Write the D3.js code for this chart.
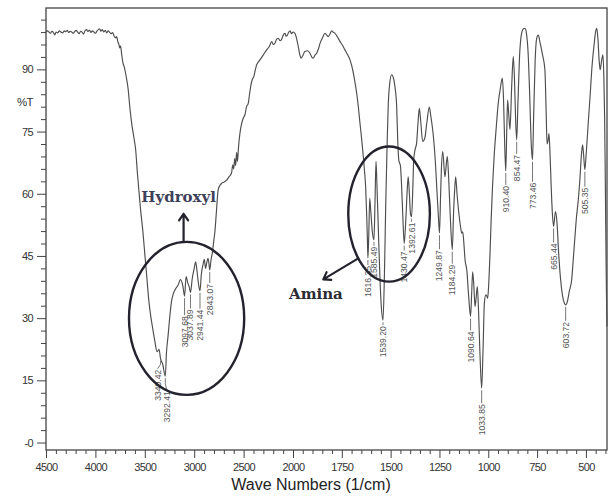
<!DOCTYPE html>
<html>
<head>
<meta charset="utf-8">
<script src="https://cdn.jsdelivr.net/npm/d3@7"></script>
<style>
  body { margin: 0; background: #fff; }
  svg { display: block; }
</style>
</head>
<body>
<svg id="chart" width="611" height="496"></svg>
<script>
// FTIR spectrum: wave number (1/cm) against transmittance (%T)
const wavenumbers = [
  4500, 4485, 4470, 4455, 4440, 4425, 4412, 4398, 4380, 4365, 4350, 4330, 4315, 4300, 4285, 4270,
  4255, 4240, 4225, 4210, 4195, 4180, 4165, 4150, 4135, 4120, 4105, 4090, 4075, 4060, 4045, 4030,
  4015, 4000, 3985, 3970, 3957, 3945, 3930, 3915, 3900, 3885, 3870, 3855, 3840, 3826, 3810, 3795,
  3785, 3772, 3762, 3755, 3745, 3735, 3721, 3708, 3694, 3682, 3670, 3650, 3630, 3610, 3592, 3575,
  3557, 3540, 3521, 3500, 3480, 3460, 3440, 3420, 3400, 3376, 3356, 3340.42, 3320, 3292.41, 3281, 3265,
  3247, 3230, 3210, 3190, 3163, 3139, 3115, 3097.68, 3082, 3065, 3050, 3037.89, 3020, 3000, 2985, 2970,
  2955, 2941.44, 2928, 2910, 2898, 2885, 2872, 2860, 2850, 2843.07, 2830, 2815, 2800, 2790, 2774, 2758,
  2740, 2723, 2700, 2672, 2650, 2622, 2610, 2600, 2590, 2580, 2571, 2562, 2551, 2537, 2524, 2510,
  2498, 2487, 2470, 2453, 2440, 2429, 2413, 2396, 2382, 2368, 2350, 2335, 2300, 2267, 2240, 2216,
  2200, 2183, 2165, 2149, 2130, 2116, 2100, 2081, 2070, 2058, 2045, 2030, 2015, 2000, 1990, 1982,
  1973, 1965, 1959, 1950, 1939, 1925, 1913, 1903, 1896, 1888, 1879, 1870, 1862, 1850, 1836, 1828,
  1819, 1810, 1802, 1795, 1785, 1772, 1759, 1745, 1734, 1720, 1708, 1700, 1691, 1683, 1674, 1665,
  1657, 1648, 1640, 1633, 1628, 1623, 1619, 1616.35, 1612, 1607, 1602, 1594, 1585.49, 1580, 1575, 1570,
  1562, 1555, 1548, 1539.2, 1532, 1525, 1518, 1512, 1505, 1495, 1485, 1478, 1469, 1463, 1458, 1450,
  1444, 1438, 1430.47, 1422, 1415, 1410, 1404, 1398, 1392.61, 1386, 1382, 1375, 1367, 1360, 1353, 1346,
  1336, 1325, 1315, 1302, 1295, 1281, 1270, 1264, 1256, 1249.87, 1244, 1240, 1233, 1222, 1210, 1203,
  1195, 1184.29, 1178, 1172, 1167, 1160, 1150, 1142, 1136, 1131, 1125, 1119, 1110, 1100, 1090.64, 1085,
  1080, 1074, 1068, 1062, 1056, 1050, 1043, 1033.85, 1027, 1020, 1013, 1007, 1003, 998, 991, 985,
  978, 970, 960, 949, 938, 928, 922, 916, 910.4, 905, 901, 895, 889, 880, 872, 866,
  860, 854.47, 848, 840, 830, 820, 812, 804, 796, 788, 780, 773.46, 768, 760, 752, 744,
  735, 722, 710, 704, 699, 694, 689, 684, 678, 672, 665.44, 656, 648, 640, 630, 620,
  610, 603.72, 595, 585, 573, 565, 556, 548, 540, 531, 522, 517, 512, 505.35, 498, 487,
  478, 470, 458, 450, 444, 438, 432, 427, 420, 413, 408, 404, 400, 397, 394, 392
];
const transmittance = [
  99.0, 99.3, 99.0, 98.7, 99.2, 98.9, 98.3, 99.0, 98.8, 99.3, 99.0, 98.8, 99.3, 99.1, 99.4, 98.9,
  99.2, 99.0, 98.7, 99.1, 99.4, 99.0, 98.6, 99.2, 99.0, 98.5, 99.3, 99.6, 99.1, 99.5, 98.9, 99.3,
  99.0, 98.7, 99.2, 99.6, 99.8, 99.2, 99.6, 99.0, 99.4, 98.8, 99.3, 98.9, 98.6, 98.9, 98.0, 97.6,
  97.9, 96.6, 96.0, 95.2, 95.6, 93.8, 91.5, 90.6, 89.0, 87.4, 85.5, 80.5, 76.5, 73.5, 70.5, 65.0,
  60.0, 55.5, 51.3, 45.5, 40.0, 34.4, 30.5, 27.5, 24.7, 21.9, 22.5, 20.2, 19.0, 16.0, 21.6, 25.6,
  30.4, 34.0, 36.0, 37.0, 38.0, 39.3, 37.8, 35.3, 40.0, 38.5, 37.5, 36.2, 39.5, 42.0, 43.6, 41.0,
  38.0, 36.6, 40.5, 43.0, 44.2, 42.0, 43.5, 44.4, 43.0, 41.6, 44.0, 46.0, 49.0, 51.0, 56.1, 60.9,
  62.0, 62.5, 62.8, 63.3, 64.0, 65.0, 67.0, 66.0, 68.5, 66.8, 70.0, 67.8, 71.4, 74.6, 76.5, 77.8,
  78.5, 79.0, 81.0, 81.8, 84.0, 85.8, 87.5, 88.3, 89.8, 91.1, 91.8, 92.3, 93.5, 94.7, 95.5, 96.7,
  96.0, 96.3, 97.3, 97.5, 96.9, 97.2, 98.2, 98.7, 98.0, 98.2, 98.9, 99.3, 98.6, 99.0, 98.7, 97.5,
  95.5, 93.5, 92.7, 93.3, 94.3, 94.5, 93.9, 92.9, 92.7, 93.4, 93.9, 94.9, 96.2, 97.5, 98.7, 98.3,
  97.9, 98.6, 99.3, 99.0, 98.7, 97.8, 96.7, 95.7, 94.7, 93.5, 92.3, 91.0, 89.1, 87.0, 84.3, 80.8,
  77.0, 73.0, 69.0, 65.0, 61.7, 55.3, 49.0, 44.5, 50.0, 58.9, 56.0, 51.0, 48.9, 58.0, 67.8, 62.0,
  50.0, 40.0, 33.0, 29.5, 40.0, 57.7, 72.0, 81.8, 86.5, 88.7, 87.8, 85.8, 81.0, 72.0, 68.0, 66.8,
  62.0, 55.0, 48.0, 54.0, 61.0, 64.1, 60.0, 55.0, 54.5, 62.0, 68.2, 70.6, 72.2, 77.0, 80.6, 77.5,
  72.6, 73.4, 77.0, 80.9, 79.0, 73.8, 67.0, 61.7, 55.0, 50.5, 60.0, 66.0, 70.2, 64.1, 69.0, 64.0,
  55.0, 46.5, 55.0, 61.0, 64.1, 60.0, 55.0, 52.1, 50.5, 50.8, 48.1, 44.1, 41.6, 35.0, 30.4, 36.0,
  41.2, 38.0, 32.8, 35.0, 37.6, 32.0, 22.0, 13.1, 22.0, 33.6, 35.6, 35.3, 34.8, 38.0, 45.7, 54.0,
  62.0, 69.0, 75.5, 81.8, 85.5, 87.9, 83.0, 72.0, 65.5, 76.0, 82.6, 79.0, 75.5, 86.0, 93.1, 88.0,
  78.0, 73.0, 82.0, 93.0, 98.5, 99.8, 99.9, 98.5, 94.0, 84.0, 72.0, 68.2, 78.0, 92.0, 97.5, 98.3,
  96.5, 93.5, 89.9, 80.5, 72.0, 72.8, 74.5, 70.0, 62.0, 55.5, 52.1, 55.7, 53.0, 46.0, 39.5, 35.5,
  33.6, 33.2, 34.0, 36.5, 39.2, 44.0, 49.7, 54.5, 58.0, 63.3, 70.0, 71.8, 69.5, 65.8, 70.0, 77.8,
  84.0, 89.9, 96.0, 99.2, 99.9, 97.0, 92.0, 89.9, 92.0, 93.5, 88.0, 77.8, 60.0, 45.0, 33.0, 28.0
];

// Labelled band positions (1/cm) and the text printed under each band
const peakPositions = [3340.42, 3292.41, 3097.68, 3037.89, 2941.44, 2843.07, 1616.35, 1585.49, 1539.2,
  1430.47, 1392.61, 1249.87, 1184.29, 1090.64, 1033.85, 910.4, 854.47, 773.46, 665.44, 603.72, 505.35];
const peakLabels = ["3340.42", "3292.41", "3097.68", "3037.89", "2941.44", "2843.07", "1616.35", "1585.49",
  "1539.20", "1430.47", "1392.61", "1249.87", "1184.29", "1090.64", "1033.85", "910.40", "854.47",
  "773.46", "665.44", "603.72", "505.35"];

// Axis ticks
const xMajorTicks = [4500, 4000, 3500, 3000, 2500, 2000, 1750, 1500, 1250, 1000, 750, 500];
const yMajorTicks = [0, 15, 30, 45, 60, 75, 90];
const yTickLabels = ["-0", "15", "30", "45", "60", "75", "90"];

// Circled band groups: name, wave-number span, %T span
const groupNames = ["Hydroxyl", "Amina"];
const groupWavenumberSpans = [[3660, 2494], [1717, 1299]];
const groupTransmittanceSpans = [[48.4, 11.5], [71.4, 38.8]];

const svg = d3.select("#chart");
const plotLeft = 46, plotRight = 607, plotTop = 8, plotBottom = 450;

// The spectrometer plots 2000-400 at twice the scale of 4500-2000
const x = d3.scaleLinear().domain([4500, 2000, 392]).range([plotLeft, 293, plotRight]);
const y = d3.scaleLinear().domain([-1.8, 104.8]).range([plotBottom, plotTop]);

const axisFont = "'Liberation Sans', Arial, sans-serif";

// Frame
svg.append("rect")
  .attr("x", plotLeft).attr("y", plotTop)
  .attr("width", plotRight - plotLeft).attr("height", plotBottom - plotTop)
  .attr("fill", "none").attr("stroke", "#444").attr("stroke-width", 1.3);

// Y axis: majors every 15, minors every 3
const yMinor = d3.range(3, 103, 3).filter(v => v % 15 !== 0);
svg.append("g").attr("transform", `translate(${plotLeft},0)`)
  .call(d3.axisLeft(y).tickValues(yMinor).tickSize(5).tickFormat(""))
  .call(g => g.select(".domain").remove());
svg.append("g").attr("transform", `translate(${plotLeft},0)`)
  .call(d3.axisLeft(y).tickValues(yMajorTicks).tickSize(9).tickPadding(4)
    .tickFormat((d, i) => yTickLabels[i]))
  .call(g => g.select(".domain").remove());

// X axis: majors every 500 / 250, minors every 100 / 50
const xMinor = d3.range(4400, 2000, -100).filter(v => v % 500 !== 0)
  .concat(d3.range(1950, 390, -50).filter(v => v % 250 !== 0));
svg.append("g").attr("transform", `translate(0,${plotBottom})`)
  .call(d3.axisBottom(x).tickValues(xMinor).tickSize(4).tickFormat(""))
  .call(g => g.select(".domain").remove());
svg.append("g").attr("transform", `translate(0,${plotBottom})`)
  .call(d3.axisBottom(x).tickValues(xMajorTicks).tickSize(8).tickPadding(5).tickFormat(d3.format("d")))
  .call(g => g.select(".domain").remove());

svg.selectAll(".tick line").attr("stroke", "#444").attr("stroke-width", 1);
svg.selectAll(".tick text")
  .attr("font-family", axisFont).attr("font-size", 11)
  .attr("letter-spacing", "-0.6px").attr("fill", "#333");

// Axis titles
svg.append("text")
  .attr("x", 311).attr("y", 490).attr("text-anchor", "middle")
  .attr("font-family", axisFont).attr("font-size", 16).attr("fill", "#222")
  .text("Wave Numbers (1/cm)");
svg.append("text")
  .attr("x", 33).attr("y", 105.5).attr("text-anchor", "end")
  .attr("font-family", axisFont).attr("font-size", 11.5).attr("letter-spacing", "-0.6px").attr("fill", "#333")
  .text("%T");

// Spectrum trace
const points = wavenumbers.map((w, i) => [w, transmittance[i]]);
svg.append("path")
  .datum(points)
  .attr("fill", "none")
  .attr("stroke", "#4d4d4d")
  .attr("stroke-width", 1.15)
  .attr("stroke-linejoin", "round")
  .attr("d", d3.line().x(d => x(d[0])).y(d => y(d[1])).curve(d3.curveMonotoneX));

// Band labels: a short drop line under each minimum, then the value read upward
const labelGap = {
  "3340.42": 11, "3292.41": 15, "3097.68": 20, "3037.89": 17, "2941.44": 19, "2843.07": 14,
  "1616.35": 8, "1585.49": 7, "1539.20": 6, "1430.47": 8, "1392.61": 6, "1249.87": 17,
  "1184.29": 15, "1090.64": 15, "1033.85": 16, "910.40": 15, "854.47": 15, "773.46": 23,
  "665.44": 17, "603.72": 17, "505.35": 18
};
// Sideways nudges that keep crowded labels apart
const labelShift = { "3340.42": -3, "3292.41": 1.5 };
const peaks = svg.append("g");
peakPositions.forEach((w, i) => {
  const t = transmittance[wavenumbers.indexOf(w)];
  const px = x(w), py = y(t);
  const gap = labelGap[peakLabels[i]];
  const lx = px + (labelShift[peakLabels[i]] || 0);
  if (gap > 4) {
    peaks.append("path")
      .attr("d", `M${px},${py + 2}L${px},${py + gap * 0.5}L${lx},${py + gap - 1}`)
      .attr("fill", "none").attr("stroke", "#666").attr("stroke-width", 0.9);
  }
  peaks.append("text")
    .attr("transform", `translate(${lx},${py + gap}) rotate(-90)`)
    .attr("text-anchor", "end").attr("dy", "0.35em")
    .attr("font-family", axisFont).attr("font-size", 8.6)
    .attr("fill", "#555")
    .text(peakLabels[i]);
});

// Circled band groups with their arrows and names
const ringInk = "#23232d";
const groups = groupNames.map((name, i) => {
  const [w0, w1] = groupWavenumberSpans[i];
  const [t0, t1] = groupTransmittanceSpans[i];
  const x0 = x(w0), x1 = x(w1), y0 = y(t0), y1 = y(t1);
  return { name, cx: (x0 + x1) / 2, cy: (y0 + y1) / 2, rx: (x1 - x0) / 2, ry: (y1 - y0) / 2 };
});
groups.forEach(g => {
  svg.append("ellipse")
    .attr("cx", g.cx).attr("cy", g.cy).attr("rx", g.rx).attr("ry", g.ry)
    .attr("fill", "none").attr("stroke", ringInk).attr("stroke-width", 2.4);
});

function arrow(x1, y1, x2, y2) {
  const a = Math.atan2(y2 - y1, x2 - x1), head = 8, spread = 0.6;
  const p = d3.path();
  p.moveTo(x1, y1); p.lineTo(x2, y2);
  p.moveTo(x2 - head * Math.cos(a - spread), y2 - head * Math.sin(a - spread));
  p.lineTo(x2, y2);
  p.lineTo(x2 - head * Math.cos(a + spread), y2 - head * Math.sin(a + spread));
  svg.append("path").attr("d", p.toString())
    .attr("fill", "none").attr("stroke", ringInk).attr("stroke-width", 2.2)
    .attr("stroke-linecap", "round").attr("stroke-linejoin", "round");
}

const serif = "'DejaVu Serif', 'Liberation Serif', serif";
// Hydroxyl: arrow straight up from the top of the ring
const gh = groups[0];
arrow(gh.cx - 3, gh.cy - gh.ry, gh.cx - 3, gh.cy - gh.ry - 28);
svg.append("text")
  .attr("x", gh.cx - 8).attr("y", 201.5).attr("text-anchor", "middle")
  .attr("font-family", serif).attr("font-weight", "bold").attr("font-size", 15)
  .attr("fill", "#3d405a").text(gh.name);

// Amina: arrow out of the lower-left of the ring
const ga = groups[1];
const ang = 139 * Math.PI / 180;
const sx = ga.cx + ga.rx * Math.cos(ang), sy = ga.cy + ga.ry * Math.sin(ang);
arrow(sx, sy, sx - 35, sy + 21);
svg.append("text")
  .attr("x", 289).attr("y", 298.5).attr("text-anchor", "start")
  .attr("font-family", serif).attr("font-weight", "bold").attr("font-size", 15)
  .attr("fill", "#2b2b33").text(ga.name);
</script>
</body>
</html>
